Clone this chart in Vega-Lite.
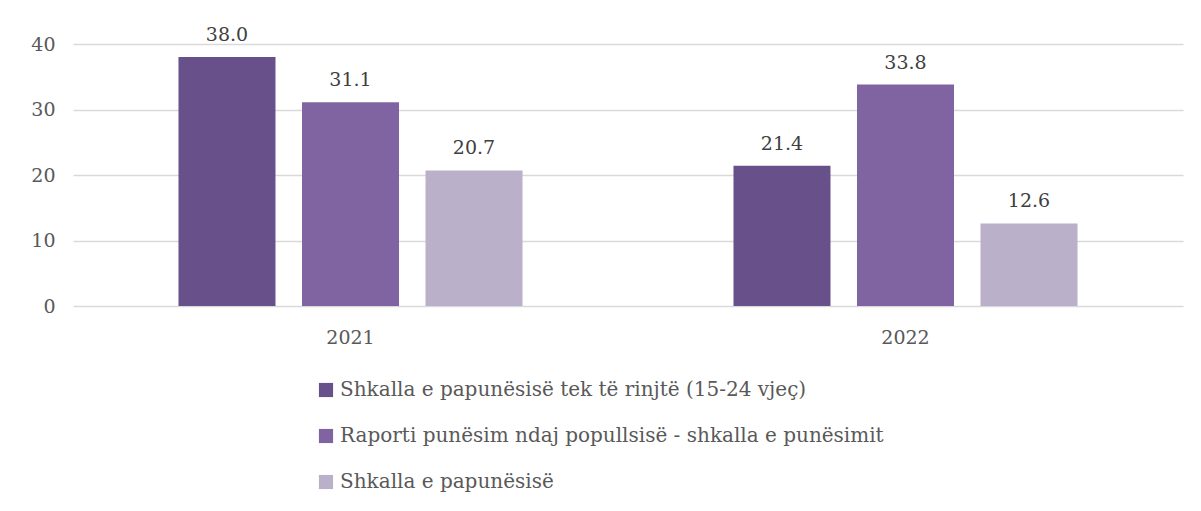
{
  "$schema": "https://vega.github.io/schema/vega-lite/v6.json",
  "width": 1110,
  "height": 262,
  "autosize": {"type": "none"},
  "padding": {"left": 73, "top": 44, "right": 18, "bottom": 205},
  "background": "white",
  "config": {
    "font": "DejaVu Serif",
    "view": {"stroke": null},
    "axis": {"labelFont": "DejaVu Serif", "labelColor": "#595959", "labelFontSize": 19, "gridColor": "#d9d9d9", "gridWidth": 1.3, "domain": false, "ticks": false}
  },
  "data": {
    "values": [
      {"year": "2021", "series": "Shkalla e papunësisë tek të rinjtë (15-24 vjeç)", "value": 38.0},
      {"year": "2021", "series": "Raporti punësim ndaj popullsisë - shkalla e punësimit", "value": 31.1},
      {"year": "2021", "series": "Shkalla e papunësisë", "value": 20.7},
      {"year": "2022", "series": "Shkalla e papunësisë tek të rinjtë (15-24 vjeç)", "value": 21.4},
      {"year": "2022", "series": "Raporti punësim ndaj popullsisë - shkalla e punësimit", "value": 33.8},
      {"year": "2022", "series": "Shkalla e papunësisë", "value": 12.6}
    ]
  },
  "encoding": {
    "x": {"field": "year", "type": "nominal", "scale": {"paddingInner": 0, "paddingOuter": 0}, "axis": {"title": null, "labelAngle": 0, "labelPadding": 22, "grid": false}},
    "xOffset": {"field": "series", "type": "nominal", "sort": ["Shkalla e papunësisë tek të rinjtë (15-24 vjeç)", "Raporti punësim ndaj popullsisë - shkalla e punësimit", "Shkalla e papunësisë"], "scale": {"paddingInner": 0.2146, "paddingOuter": 0.854}},
    "y": {"field": "value", "type": "quantitative", "scale": {"domain": [0, 40]}, "axis": {"title": null, "values": [0, 10, 20, 30, 40], "labelOverlap": false, "labelPadding": 18}}
  },
  "layer": [
    {
      "mark": {"type": "bar"},
      "encoding": {
        "color": {
          "field": "series",
          "type": "nominal",
          "scale": {"domain": ["Shkalla e papunësisë tek të rinjtë (15-24 vjeç)", "Raporti punësim ndaj popullsisë - shkalla e punësimit", "Shkalla e papunësisë"], "range": ["#68508A", "#8064A2", "#BAB0CA"]},
          "legend": {
            "title": null,
            "orient": "none",
            "legendX": 243,
            "legendY": 336,
            "direction": "vertical",
            "symbolType": "square",
            "symbolSize": 200,
            "symbolStrokeWidth": 0,
            "labelFont": "DejaVu Serif",
            "labelFontSize": 20,
            "labelColor": "#595959",
            "labelOffset": 4,
            "rowPadding": 26,
            "labelLimit": 800
          }
        }
      }
    },
    {
      "mark": {"type": "text", "baseline": "alphabetic", "dy": -16, "fontSize": 19, "color": "#404040", "font": "DejaVu Serif"},
      "encoding": {
        "text": {"field": "value", "type": "quantitative", "format": ".1f"}
      }
    }
  ]
}
